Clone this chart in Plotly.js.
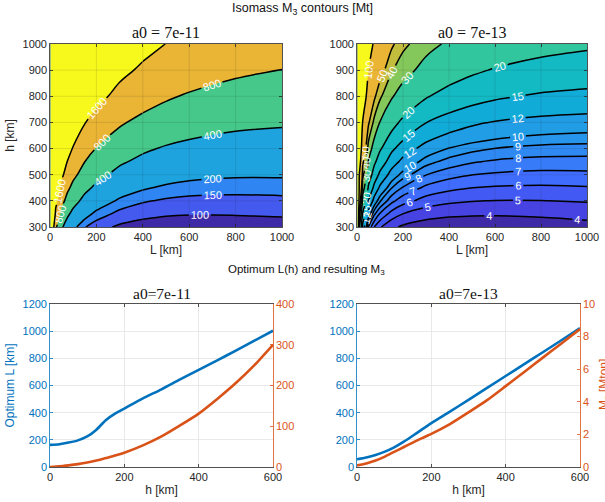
<!DOCTYPE html>
<html><head><meta charset="utf-8">
<script src="https://cdn.plot.ly/plotly-3.0.1.min.js"></script>
<style>html,body{margin:0;padding:0;background:#fff}</style>
</head><body><div id="chart" style="width:605px;height:502px"></div>
<script>
// ---------- data: contour grids (M3 in Mt) ----------
const L_km = [2, 10, 25, 50, 75, 100, 150, 200, 300, 400, 500, 600, 800, 1000];
const h_km = [300, 350, 400, 450, 500, 550, 600, 700, 800, 900, 1000];

const M3_a11 = [
  [10706, 2142, 858, 432, 290, 221, 153, 120, 91.1, 79.8, 75.7, 75.0, 76.4, 80.1],
  [16397, 3280, 1314, 660, 443, 336, 231, 180, 133, 114, 105, 102, 103, 106],
  [23774, 4756, 1904, 956, 641, 485, 331, 256, 186, 156, 142, 135, 133, 136],
  [33251, 6651, 2663, 1335, 895, 676, 459, 354, 254, 209, 187, 175, 169, 171],
  [44616, 8924, 3572, 1791, 1199, 904, 613, 470, 334, 272, 239, 221, 209, 209],
  [58590, 11719, 4691, 2350, 1573, 1185, 802, 613, 431, 347, 302, 277, 255, 252],
  [75225, 15047, 6022, 3017, 2017, 1520, 1025, 782, 546, 436, 376, 341, 308, 300],
  [120330, 24068, 9631, 4822, 3223, 2425, 1632, 1240, 857, 675, 573, 511, 447, 424],
  [185760, 37154, 14866, 7442, 4970, 3738, 2510, 1902, 1305, 1018, 855, 753, 643, 595],
  [266897, 53382, 21358, 10689, 7137, 5364, 3598, 2721, 1857, 1439, 1198, 1046, 875, 794],
  [360904, 72184, 28880, 14451, 9646, 7247, 4856, 3667, 2493, 1921, 1589, 1377, 1135, 1012]
];
const M3_a13 = [
  [141.2, 30.0, 13.36, 7.83, 6.00, 5.11, 4.24, 3.83, 3.49, 3.37, 3.35, 3.37, 3.49, 3.66],
  [205.9, 43.35, 18.99, 10.89, 8.21, 6.89, 5.59, 4.98, 4.42, 4.20, 4.12, 4.10, 4.17, 4.31],
  [290.4, 60.71, 26.27, 14.82, 11.02, 9.14, 7.29, 6.39, 5.56, 5.21, 5.04, 4.97, 4.98, 5.09],
  [380.0, 79.08, 33.97, 18.96, 13.98, 11.50, 9.06, 7.87, 6.75, 6.25, 6.01, 5.89, 5.83, 5.91],
  [483.5, 100.3, 42.79, 23.66, 17.31, 14.15, 11.02, 9.49, 8.03, 7.37, 7.02, 6.84, 6.71, 6.75],
  [605.8, 125.2, 53.11, 29.12, 21.14, 17.17, 13.24, 11.30, 9.44, 8.58, 8.11, 7.85, 7.63, 7.61],
  [748.4, 154.2, 65.10, 35.42, 25.56, 20.64, 15.76, 13.35, 11.02, 9.93, 9.33, 8.97, 8.64, 8.55],
  [1119, 229.6, 96.18, 51.74, 36.96, 29.58, 22.25, 18.62, 15.07, 13.37, 12.41, 11.83, 11.21, 10.96],
  [1628, 332.9, 138.7, 73.94, 52.41, 41.65, 30.95, 25.64, 20.41, 17.88, 16.43, 15.52, 14.52, 14.05],
  [2239, 456.6, 189.3, 100.3, 70.63, 55.83, 41.06, 33.73, 26.49, 22.96, 20.91, 19.61, 18.12, 17.37],
  [2942, 598.8, 247.4, 130.3, 91.30, 71.83, 52.40, 42.74, 33.17, 28.48, 25.75, 23.99, 21.94, 20.86]
];
const levels_a11 = [100, 150, 200, 400, 800, 1600];
const levels_a13 = [4, 5, 6, 7, 8, 9, 10, 12, 15, 20, 30, 40, 50, 100];

// ---------- data: optimum curves ----------
const h_opt = [0, 25, 50, 75, 100, 125, 150, 175, 200, 250, 300, 350, 400, 450, 500, 550, 600];
const Lopt_a11 = [163, 168, 180, 196, 225, 275, 345, 393, 430, 505, 572, 645, 715, 785, 857, 930, 1003];
const M3opt_a11 = [0, 1.5, 4, 7, 11, 16, 22, 28, 35, 53, 75, 102, 131, 167, 206, 250, 300];
const Lopt_a13 = [57, 70, 88, 113, 145, 185, 230, 277, 323, 408, 494, 582, 670, 757, 845, 933, 1022];
const M3opt_a13 = [0.1, 0.22, 0.4, 0.64, 0.93, 1.21, 1.5, 1.77, 2.03, 2.63, 3.35, 4.1, 4.96, 5.83, 6.71, 7.58, 8.46];

// ---------- tick values ----------
const ticksL = [0, 200, 400, 600, 800, 1000];
const ticksH = [300, 400, 500, 600, 700, 800, 900, 1000];
const ticksHopt = [0, 200, 400, 600];

// ---------- styles ----------
const bands_a11 = ['#3e2aa6', '#4459ee', '#2f86f2', '#1ea3df', '#45c88a', '#eab535', '#f7f91c'];
const bands_a13 = ['#3e2aa6', '#4643e2', '#4359f4', '#3f6cfd', '#377bf9', '#2f89f2', '#2895ec',
                   '#209de5', '#11abd8', '#13b9c3', '#32c69f', '#84c85c', '#c3bd3d', '#eab535', '#f7f91c'];
const BLUE = '#0072BD', ORANGE = '#D95319', AX = '#262626';
const SANS = 'Liberation Sans, Arial, Helvetica, sans-serif';
const SERIF = 'Liberation Serif, Times New Roman, serif';
// plotly spaces contour labels by the number of levels in a trace; extra empty
// levels (far above the data) give a MATLAB-like label density on each line
const LABEL_SLOTS = 150, EMPTY_STEP = 1e9;
// the labelled lines are drawn in two pieces of the grid (column index ranges)
const linePieces = [[0, 9], [9, 13]];

function fillTraces(z, levels, bands, xa, ya) {
  return levels.map((lev, k) => ({
    type: 'contour', x: L_km, y: h_km, z: z, xaxis: xa, yaxis: ya,
    autocontour: false,
    contours: {start: lev, end: lev, size: 1, coloring: 'fill', showlines: false},
    colorscale: [[0, k === 0 ? bands[0] : 'rgba(0,0,0,0)'], [1, bands[k + 1]]],
    line: {width: 0, smoothing: 1}, showscale: false, hoverinfo: 'skip'
  }));
}
function lineTraces(z, levels, xa, ya) {
  const out = [];
  linePieces.forEach(([c0, c1]) => {
    const xs = L_km.slice(c0, c1 + 1);
    const zs = z.map(r => r.slice(c0, c1 + 1));
    levels.forEach(lev => out.push({
      type: 'contour', x: xs, y: h_km, z: zs, xaxis: xa, yaxis: ya,
      autocontour: false,
      contours: {start: lev, end: lev + (LABEL_SLOTS - 1) * EMPTY_STEP, size: EMPTY_STEP,
                 coloring: 'none', showlabels: true, labelformat: '.4~g',
                 labelfont: {family: SANS, size: 11, color: 'white'}},
      line: {color: 'black', width: 1.5, smoothing: 1}, showscale: false, hoverinfo: 'skip'
    }));
  });
  return out;
}

const traces = [].concat(
  fillTraces(M3_a11, levels_a11, bands_a11, 'x', 'y'),
  fillTraces(M3_a13, levels_a13, bands_a13, 'x2', 'y2'),
  lineTraces(M3_a11, levels_a11, 'x', 'y'),
  lineTraces(M3_a13, levels_a13, 'x2', 'y2'),
  [
    {type: 'scatter', mode: 'lines', x: h_opt, y: Lopt_a11, xaxis: 'x3', yaxis: 'y3',
     line: {color: BLUE, width: 2.6, shape: 'spline', smoothing: 0.6}, hoverinfo: 'skip'},
    {type: 'scatter', mode: 'lines', x: h_opt, y: M3opt_a11, xaxis: 'x3', yaxis: 'y4',
     line: {color: ORANGE, width: 2.6, shape: 'spline', smoothing: 0.6}, hoverinfo: 'skip'},
    {type: 'scatter', mode: 'lines', x: h_opt, y: Lopt_a13, xaxis: 'x4', yaxis: 'y5',
     line: {color: BLUE, width: 2.6, shape: 'spline', smoothing: 0.6}, hoverinfo: 'skip'},
    {type: 'scatter', mode: 'lines', x: h_opt, y: M3opt_a13, xaxis: 'x4', yaxis: 'y6',
     line: {color: ORANGE, width: 2.6, shape: 'spline', smoothing: 0.6}, hoverinfo: 'skip'}
  ]
);

const W = 605, H = 502;
const dx = (a, b) => [a / W, b / W];
const dy = (top, bot) => [1 - bot / H, 1 - top / H];
const tf = (c) => ({family: SANS, size: 11, color: c});

function baseAxis(extra) {
  return Object.assign({
    ticks: 'inside', ticklen: 3, tickwidth: 0.8, tickcolor: AX, showline: true, linecolor: AX,
    linewidth: 0.8, zeroline: false, showgrid: false, tickfont: tf(AX), automargin: false
  }, extra);
}

const layout = {
  width: W, height: H, margin: {l: 0, r: 0, t: 0, b: 0},
  paper_bgcolor: '#fff', plot_bgcolor: '#fff', showlegend: false,
  xaxis: baseAxis({domain: dx(50, 282), anchor: 'y', range: [0, 1000], tickvals: ticksL, mirror: 'ticks',
    title: {text: 'L [km]', font: {family: SANS, size: 12, color: AX}, standoff: 3}}),
  yaxis: baseAxis({domain: dy(44, 227), anchor: 'x', range: [300, 1000], tickvals: ticksH, mirror: 'ticks',
    title: {text: 'h [km]', font: {family: SANS, size: 12, color: AX}, standoff: 5}}),
  xaxis2: baseAxis({domain: dx(357, 587), anchor: 'y2', range: [0, 1000], tickvals: ticksL, mirror: 'ticks',
    title: {text: 'L [km]', font: {family: SANS, size: 12, color: AX}, standoff: 3}}),
  yaxis2: baseAxis({domain: dy(44, 227), anchor: 'x2', range: [300, 1000], tickvals: ticksH, mirror: 'ticks'}),
  xaxis3: baseAxis({domain: dx(50, 273), anchor: 'y3', range: [0, 600], tickvals: ticksHopt, mirror: 'ticks',
    showgrid: true, gridcolor: '#e4e4e4', gridwidth: 0.8,
    title: {text: 'h [km]', font: {family: SANS, size: 12, color: AX}, standoff: 3}}),
  yaxis3: baseAxis({domain: dy(304, 467), anchor: 'x3', range: [0, 1200], dtick: 200,
    showgrid: true, gridcolor: '#e4e4e4', gridwidth: 0.8,
    tickcolor: BLUE, linecolor: BLUE, tickfont: tf(BLUE),
    title: {text: 'Optimum L [km]', font: {family: SANS, size: 12, color: BLUE}, standoff: 5}}),
  yaxis4: baseAxis({overlaying: 'y3', anchor: 'x3', side: 'right', range: [0, 400], dtick: 100,
    tickcolor: ORANGE, linecolor: ORANGE, tickfont: tf(ORANGE)}),
  xaxis4: baseAxis({domain: dx(357, 580), anchor: 'y5', range: [0, 600], tickvals: ticksHopt, mirror: 'ticks',
    showgrid: true, gridcolor: '#e4e4e4', gridwidth: 0.8,
    title: {text: 'h [km]', font: {family: SANS, size: 12, color: AX}, standoff: 3}}),
  yaxis5: baseAxis({domain: dy(304, 467), anchor: 'x4', range: [0, 1200], dtick: 200,
    showgrid: true, gridcolor: '#e4e4e4', gridwidth: 0.8,
    tickcolor: BLUE, linecolor: BLUE, tickfont: tf(BLUE)}),
  yaxis6: baseAxis({overlaying: 'y5', anchor: 'x4', side: 'right', range: [0, 10], dtick: 2,
    tickcolor: ORANGE, linecolor: ORANGE, tickfont: tf(ORANGE)}),
  shapes: [],
  annotations: [
    {text: 'Isomass M<sub>3</sub> contours [Mt]', x: 302 / W, y: 1 - 9 / H, xref: 'paper', yref: 'paper',
     showarrow: false, xanchor: 'center', yanchor: 'middle', font: {family: SANS, size: 12.5, color: '#111'}},
    {text: 'a0 = 7e-11', x: 166 / W, y: 1 - 33 / H, xref: 'paper', yref: 'paper',
     showarrow: false, xanchor: 'center', yanchor: 'middle', font: {family: SERIF, size: 16, color: '#111'}},
    {text: 'a0 = 7e-13', x: 472 / W, y: 1 - 33 / H, xref: 'paper', yref: 'paper',
     showarrow: false, xanchor: 'center', yanchor: 'middle', font: {family: SERIF, size: 16, color: '#111'}},
    {text: 'Optimum L(h) and resulting M<sub>3</sub>', x: 306 / W, y: 1 - 270 / H, xref: 'paper', yref: 'paper',
     showarrow: false, xanchor: 'center', yanchor: 'middle', font: {family: SANS, size: 11.5, color: '#111'}},
    {text: 'a0=7e-11', x: 161.5 / W, y: 1 - 293 / H, xref: 'paper', yref: 'paper',
     showarrow: false, xanchor: 'center', yanchor: 'middle', font: {family: SERIF, size: 15.5, color: '#111'}},
    {text: 'a0=7e-13', x: 468.5 / W, y: 1 - 293 / H, xref: 'paper', yref: 'paper',
     showarrow: false, xanchor: 'center', yanchor: 'middle', font: {family: SERIF, size: 15.5, color: '#111'}},
    {text: 'M<sub>3</sub> [Mton]', textangle: -90, x: 605 / W, y: 1 - 385 / H, xref: 'paper', yref: 'paper',
     showarrow: false, xanchor: 'center', yanchor: 'middle', font: {family: SANS, size: 12, color: ORANGE}}
  ]
};

// faint grid on top of the filled contours (MATLAB grid on)
const gridStyle = {color: 'rgba(38,38,38,0.15)', width: 0.8};
[['x', 'y'], ['x2', 'y2']].forEach(([xa, ya]) => {
  ticksL.slice(1, -1).forEach(v => layout.shapes.push({type: 'line', layer: 'above', xref: xa, yref: ya + ' domain',
    x0: v, x1: v, y0: 0, y1: 1, line: gridStyle}));
  ticksH.slice(1, -1).forEach(v => layout.shapes.push({type: 'line', layer: 'above', xref: xa + ' domain', yref: ya,
    x0: 0, x1: 1, y0: v, y1: v, line: gridStyle}));
});

Plotly.newPlot('chart', traces, layout, {staticPlot: true, displayModeBar: false});
</script>
</body></html>
